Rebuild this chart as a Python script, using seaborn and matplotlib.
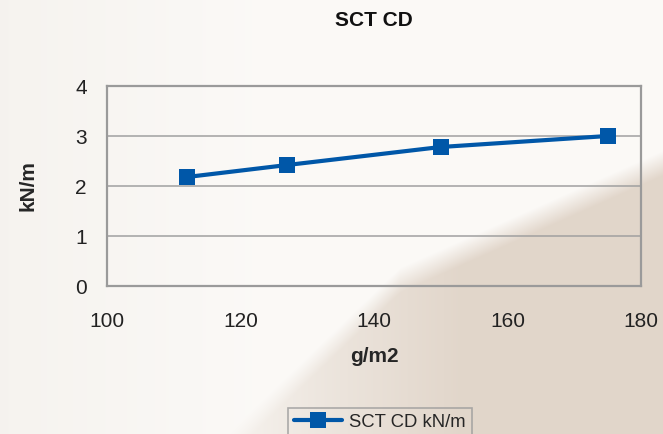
import numpy as np
import pandas as pd
import matplotlib
matplotlib.use("Agg")
import matplotlib.pyplot as plt
import seaborn as sns

# data
grammage = [112, 127, 150, 175]
sct_cd = [2.18, 2.42, 2.78, 3.0]
x_ticks = [100, 120, 140, 160, 180]
y_ticks = [0, 1, 2, 3, 4]

df = pd.DataFrame({"g/m2": grammage, "kN/m": sct_cd})

sns.set_style("white")
plt.rcParams["font.family"] = ["Liberation Sans", "DejaVu Sans"]

fig = plt.figure(figsize=(6.63, 4.34), dpi=100)

# soft beige background with a darker diagonal wedge in the lower right
bg = fig.add_axes([0, 0, 1, 1], zorder=-10)
h, w = 434, 663
yy, xx = np.mgrid[0:h, 0:w]
light = np.array([0.985, 0.978, 0.968])
edge = np.array([0.950, 0.935, 0.915])
tan = np.array([0.885, 0.840, 0.795])
rim = np.clip(1 - np.minimum(xx / 260.0, 1.0), 0, 1) * 0.6
img = light[None, None, :] * (1 - rim[..., None]) + edge[None, None, :] * rim[..., None]
# bent edge: (663,150) -> (400,267) -> (237,423)
yb = np.where(xx > 400, 150 + (663 - xx) * 0.445, 267 + (400 - xx) * 0.96)
d = (yy - yb) / 25.0
wedge = np.clip(d, 0, 1) * np.clip((xx - 200) / 260.0, 0, 1) ** 0.8
img = img * (1 - wedge[..., None]) + tan[None, None, :] * wedge[..., None]
bg.imshow(img, aspect="auto", extent=[0, 1, 0, 1])
bg.axis("off")

ax = fig.add_axes([107 / 663, 1 - 286 / 434, (641 - 107) / 663, 200 / 434])
ax.patch.set_alpha(0)

sns.lineplot(data=df, x="g/m2", y="kN/m", ax=ax, color="#0057a8",
             linewidth=3, marker="s", markersize=12, markeredgewidth=0,
             label="SCT CD kN/m", legend=False)

ax.set_xlim(100, 180)
ax.set_ylim(0, 4)
ax.set_xticks(x_ticks)
ax.set_yticks(y_ticks)
ax.grid(axis="y", color="#a0a0a0", linewidth=1.1)
ax.set_axisbelow(True)
for s in ax.spines.values():
    s.set_color("#9a9a9a")
    s.set_linewidth(1.6)
ax.tick_params(axis="both", direction="out", length=5.5, width=1.1,
               color="#9a9a9a", labelsize=15, labelcolor="#222222")
ax.tick_params(axis="x", pad=13)
ax.tick_params(axis="y", pad=9)

ax.set_xlabel("g/m2", fontsize=15, fontweight="bold", labelpad=12)
ax.set_ylabel("kN/m", fontsize=15, fontweight="bold", labelpad=27)
fig.text(374 / 663, 1 - 20 / 434, "SCT CD", ha="center", va="center",
         fontsize=15, fontweight="bold", color="#111111")

handles, labels = ax.get_legend_handles_labels()
leg = fig.legend(handles, labels, loc="upper center",
                 bbox_to_anchor=(380 / 663, 1 - 399 / 434), frameon=True,
                 fancybox=False, edgecolor="#9a9a9a", fontsize=13.3,
                 handlelength=2.6, borderpad=0.3, handletextpad=0.4)
leg.get_frame().set_facecolor("none")
leg.get_frame().set_linewidth(1.2)

fig.savefig("out.png", dpi=100)
